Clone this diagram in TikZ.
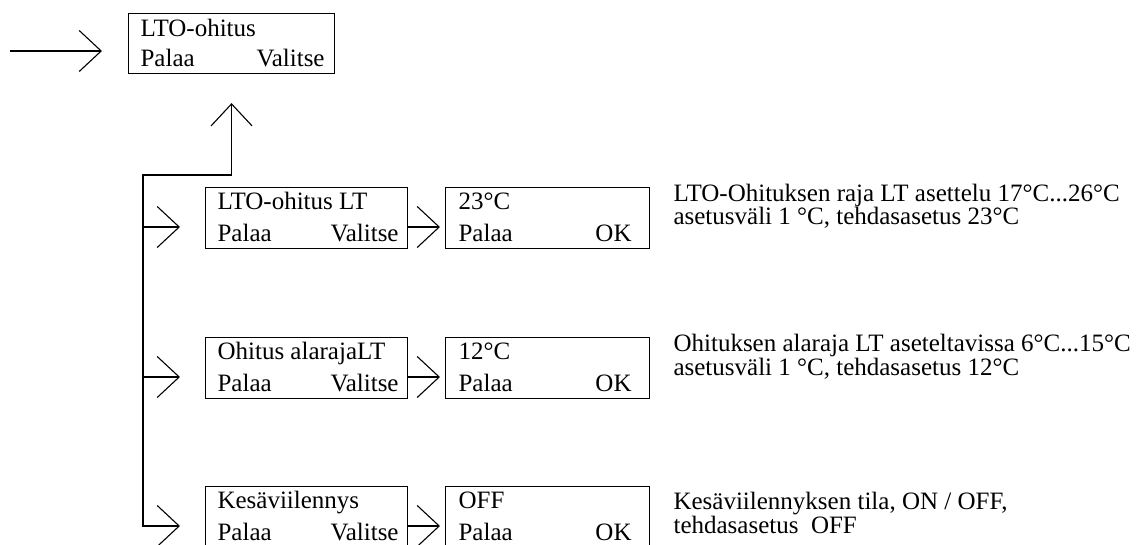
\documentclass[tikz,border=0pt]{standalone}
\usepackage{fontspec}
\setmainfont{Liberation Serif}
\usetikzlibrary{arrows.meta}
\begin{document}
\begin{tikzpicture}[x=1pt,y=-1pt,
  line width=1.1pt,
  font=\fontsize{25}{25}\selectfont,
  menubox/.style={draw, anchor=north west, inner sep=0pt, minimum width=#1, minimum height=61pt},
  menubox/.default=202pt,
  txt/.style={inner sep=0pt, anchor=base west},
  txtr/.style={inner sep=0pt, anchor=base east},
  chev/.style={-{Straight Barb[length=22pt,width=41pt]}},
]
\useasboundingbox (0,0) rectangle (1142,544);
\clip (0,0) rectangle (1142,544);

% main menu entry
\node[menubox=206pt, minimum height=60pt] (top) at (128,13) {};
\node[txt]  (topa) at ([xshift=12pt,yshift=-23pt]top.north west) {LTO-ohitus};
\node[txt]  (topb) at ([xshift=12pt,yshift=-53pt]top.north west) {Palaa};
\node[txtr] (topc) at ([xshift=-10pt,yshift=-53pt]top.north east) {Valitse};

% sub menu entries
\node[menubox] (m1) at (205,187) {};
\node[menubox] (m2) at (205,337) {};
\node[menubox] (m3) at (205,486) {};
% value screens
\node[menubox=204pt] (v1) at (445,187) {};
\node[menubox=204pt] (v2) at (445,337) {};
\node[menubox=204pt] (v3) at (445,486) {};

\foreach \b/\t in {m1/LTO-ohitus LT, m2/Ohitus alarajaLT, m3/Kesäviilennys}{
  \node[txt]  (\b a) at ([xshift=12pt,yshift=-22pt]\b.north west) {\t};
  \node[txt]  (\b b) at ([xshift=12pt,yshift=-54pt]\b.north west) {Palaa};
  \node[txtr] (\b c) at ([xshift=-9pt,yshift=-54pt]\b.north east) {Valitse};
}
\foreach \b/\t in {v1/23°C, v2/12°C, v3/OFF}{
  \node[txt]  (\b a) at ([xshift=13pt,yshift=-22pt]\b.north west) {\t};
  \node[txt]  (\b b) at ([xshift=13pt,yshift=-54pt]\b.north west) {Palaa};
  \node[txtr] (\b c) at ([xshift=-18pt,yshift=-54pt]\b.north east) {OK};
}

% explanations
\node[txt] (d1a) at (673,201) {LTO-Ohituksen raja LT asettelu 17°C...26°C};
\node[txt] (d1b) at (673,224) {asetusväli 1 °C, tehdasasetus 23°C};
\node[txt] (d2a) at (673,351) {Ohituksen alaraja LT aseteltavissa 6°C...15°C};
\node[txt] (d2b) at (673,375) {asetusväli 1 °C, tehdasasetus 12°C};
\node[txt] (d3a) at (673,509) {Kesäviilennyksen tila, ON / OFF,};
\node[txt] (d3b) at (673,533) {tehdasasetus\ \ OFF};

% connectors
\coordinate (in) at (10,51);
\coordinate (spinetop) at (143,175);
\coordinate (spinebot) at (143,527);
\draw[chev, shorten >=26pt] (in) -- (in -| top.west);
\draw[chev, shorten >=29pt] (spinebot) -- (spinetop) -| (top.south);
\foreach \r in {1,2,3}{
  \draw[chev, shorten >=25pt] ([yshift=-40pt]m\r.north west -| spinetop) -- ([yshift=-40pt]m\r.north west);
  \draw[chev, shorten >=5pt] ([yshift=-40pt]m\r.north east) -- ([yshift=-40pt]v\r.north west);
}
\end{tikzpicture}
\end{document}
